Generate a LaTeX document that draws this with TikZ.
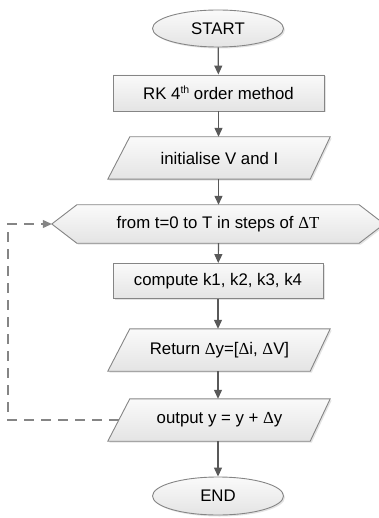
\documentclass[tikz,border=0pt]{standalone}
\usepackage{fontspec}
\setmainfont{Liberation Sans}
\newfontfamily\dserif{Liberation Serif}
\usetikzlibrary{shapes.geometric,arrows.meta,shadows,backgrounds}
\definecolor{bordc}{HTML}{858585}
\definecolor{arrc}{HTML}{595959}
\definecolor{ftop}{HTML}{FAFAFA}
\definecolor{fbot}{HTML}{E4E4E4}
\newcommand{\dd}{{\dserif Δ}}
\newcommand{\supth}{\raisebox{0.33em}{\fontsize{10.5}{11}\selectfont th}}
\tikzset{
  shp/.style={draw=bordc, line width=0.9pt, top color=ftop, bottom color=fbot,
    drop shadow={shadow xshift=1.5pt, shadow yshift=-1.5pt, opacity=0.22}},
  txt/.style={font=\fontsize{16.8}{19}\selectfont, inner sep=0pt, text=black},
  boxnode/.style={txt, shp, rectangle},
  ovalnode/.style={txt, shp, ellipse, minimum width=131pt, minimum height=37pt},
  holder/.style={txt, rectangle},
  flow/.style={draw=arrc, line width=1.2pt, -{Triangle[length=9pt,width=8pt]}},
  loopline/.style={draw=bordc, line width=1.2pt, dash pattern=on 10pt off 7pt,
    -{Triangle[length=9pt,width=8pt]}}
}
\begin{document}
\begin{tikzpicture}[x=1pt,y=-1pt]
\useasboundingbox (0,0) rectangle (379,518);
\clip (0,0) rectangle (379,518);
% nodes
\node[ovalnode] (start) at (218,28.5) {START};
\node[boxnode, minimum width=211pt, minimum height=36pt] (rk) at (218.5,93) {RK 4\supth{} order method};
\node[holder, minimum width=201pt, minimum height=42pt] (init) at (219.5,158) {initialise V and I};
\node[holder, minimum width=332pt, minimum height=38pt] (loop) at (218,224) {from t=0 to T in steps of {\dserif ΔT}};
\node[boxnode, minimum width=210pt, minimum height=35pt] (comp) at (218,281) {compute k1, k2, k3, k4};
\node[holder, minimum width=201pt, minimum height=42pt] (ret) at (219.5,350) {Return \dd y=[\dd i, \dd V]};
\node[holder, minimum width=201pt, minimum height=42pt] (out) at (219.5,420) {output y = y + \dd y};
\node[ovalnode, minimum height=38pt] (end) at (218,496) {END};
\coordinate (lp) at (8,300);
% custom shapes behind
\begin{pgfonlayer}{background}
\foreach \p in {init,ret,out}{
  \path[shp] ([xshift=-11pt]\p.south west) -- ([xshift=11pt]\p.north west)
    -- ([xshift=10pt]\p.north east) -- ([xshift=-10pt]\p.south east) -- cycle;
}
\path[shp] (loop.west) -- ([xshift=25pt]loop.north west) -- ([xshift=-25pt]loop.north east)
  -- (loop.east) -- ([xshift=-25pt]loop.south east) -- ([xshift=25pt]loop.south west) -- cycle;
\end{pgfonlayer}
% connectors
\draw[flow] (start) -- (rk);
\draw[flow] (rk) -- (rk.south |- init.north);
\draw[flow] (rk.south |- init.south) -- (rk.south |- loop.north);
\draw[flow] (rk.south |- loop.south) -- (comp);
\draw[flow] (comp.south) -- (comp.south |- ret.north);
\draw[flow] (comp.south |- ret.south) -- (comp.south |- out.north);
\draw[flow] (comp.south |- out.south) -- (end);
\draw[loopline] (out.west) -- (out.west -| lp) |- (loop.west);
\end{tikzpicture}
\end{document}
